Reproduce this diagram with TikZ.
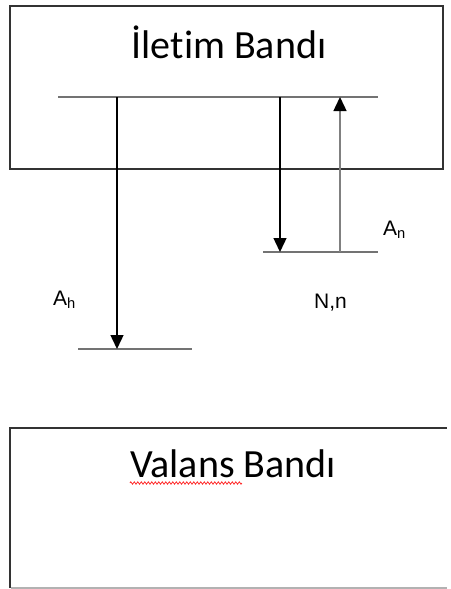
\documentclass[tikz,border=0pt]{standalone}
\usepackage{fontspec}
\setmainfont[Ligatures=NoCommon]{Carlito}
\newfontfamily\arialfont{Liberation Sans}
\usepackage{tikz}
\usetikzlibrary{arrows.meta,decorations.pathmorphing,calc,positioning}
\tikzset{
  bant/.style={draw=black!80,line width=2.2pt},
  seviye/.style={draw=black!55,line width=2pt},
  gecis/.style={-{Triangle[width=13pt,length=14pt,black]},black,line width=1.4pt},
  etiket/.style={font=\arialfont\fontsize{21}{24}\selectfont,inner sep=0pt,anchor=base west},
  baslik/.style={font=\fontsize{40}{46}\selectfont,inner sep=0pt,anchor=base}
}

\begin{document}
\begin{tikzpicture}[x=1pt,y=-1pt]
\useasboundingbox (0,0) rectangle (450,589);
% bantlar
\draw[bant] (10,6) rectangle (443,169);
\draw[bant] (10,588) -- (10,428) -- (447,428);
\draw[black!30,line width=1.2pt] (11,588) -- (447,588);
\node[baslik] (iletim) at (229,58) {İletim Bandı};
\node[baslik] (valans) at (233,477) {Valans Bandı};
\draw[red!80,line width=0.8pt,decorate,decoration={zigzag,amplitude=1.2pt,segment length=3.5pt}]
  ($(valans.base west)+(0,6)$) -- ++(112,0);
% enerji seviyeleri
\coordinate (ust1) at (58,97); \coordinate (ust2) at (378,97);
\coordinate (sag1) at (263,252); \coordinate (sag2) at (378,252);
\coordinate (alt1) at (78,349); \coordinate (alt2) at (192,349);
\foreach \a/\b in {ust1/ust2,sag1/sag2,alt1/alt2}{\draw[seviye] (\a) -- (\b);}
% gecisler
\coordinate (h) at (117,97); \coordinate (n) at (280,97); \coordinate (g) at (340,252);
\draw[gecis] (h) -- (h |- alt1);
\draw[gecis] (n) -- (n |- sag1);
\draw[gecis,draw=black!50] (g) -- (g |- ust1);
\node[etiket] (lblAh) at (53,305) {A\textsubscript{h}};
\node[etiket] (lblAn) at (383,235) {A\textsubscript{n}};
\node[etiket] (lblNn) at (314,308) {N,n};
\end{tikzpicture}
\end{document}
